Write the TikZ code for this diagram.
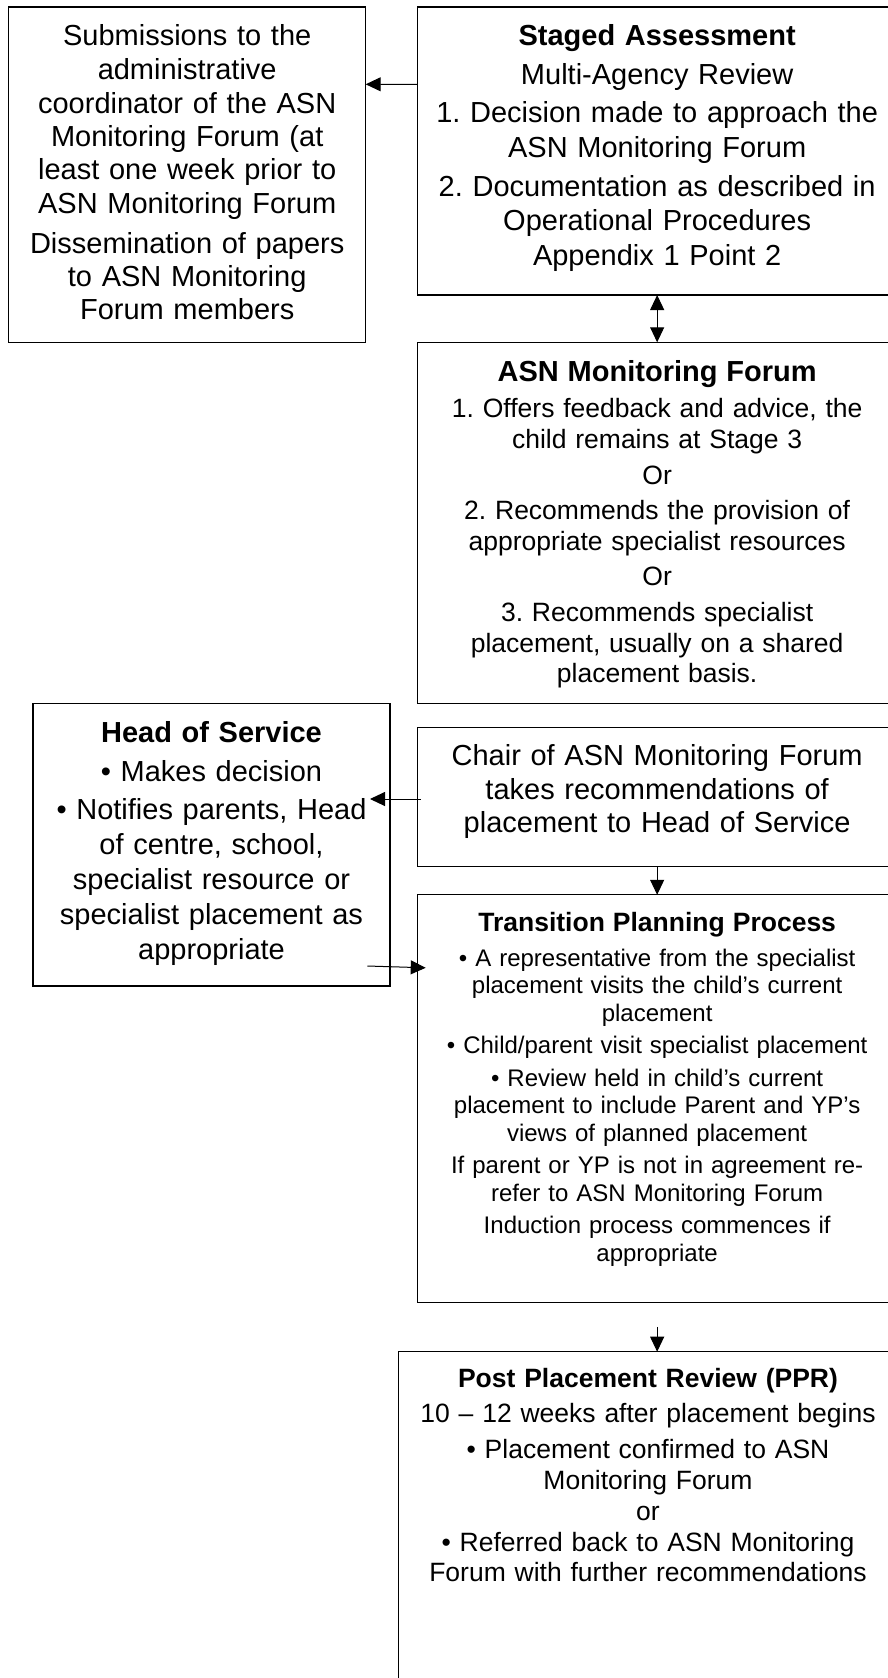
\documentclass[tikz,border=0pt]{standalone}
\usepackage{fontspec}
\setmainfont{Liberation Sans}
\usetikzlibrary{arrows.meta, positioning, calc}
\frenchspacing

\begin{document}
\begin{tikzpicture}[
    x=1pt, y=-1pt,
    stagebox/.style={
        rectangle,
        draw=black,
        line width=1.3pt,
        outer sep=0pt,
        inner sep=0pt
    },
    boxtext/.style={
        anchor=base,
        align=center,
        inner sep=0pt
    },
    bigtext/.style={font=\fontsize{29}{34}\selectfont},
    midtext/.style={font=\fontsize{26.5}{30.6}\selectfont},
    smalltext/.style={font=\fontsize{24}{27.5}\selectfont},
    arrow/.style={
        line width=1pt,
        -{Triangle[length=15pt, width=14pt]}
    },
    twoway/.style={
        line width=1pt,
        {Triangle[length=15pt, width=14pt]}-{Triangle[length=15pt, width=14pt]}
    }
]

\useasboundingbox (0,0) rectangle (888,1678);
\clip (0,0) rectangle (888,1678);

% ==================== RIGHT COLUMN ====================

\node (staged) [stagebox, minimum width=479.7pt, minimum height=288pt] at (657.15,151) {};
\node (forum) [stagebox, minimum width=479.7pt, minimum height=361pt, below=47.3pt of staged] {};
\node (chair) [stagebox, minimum width=479.7pt, minimum height=138.8pt, below=24.4pt of forum] {};
\node (tpp) [stagebox, minimum width=479.7pt, minimum height=408pt, below=28.3pt of chair] {};
\node (ppr) [stagebox, minimum width=499pt, minimum height=368.3pt] at (648,1535.85) {};

% ==================== LEFT COLUMN ====================

\node (sub) [stagebox, minimum width=357pt, minimum height=335.7pt] at (187.2,174.85) {};
\node (hos) [stagebox, minimum width=357pt, minimum height=282.7pt] at (211.5,844.65) {};

% ==================== BOX TEXTS ====================

\node (subtext) [boxtext, font=\fontsize{29}{33.5}\selectfont, text width=340pt] at ($(sub.north)+(0,39)$)
    {Submissions to the\\ administrative\\ coordinator of the ASN\\ Monitoring Forum (at\\
     least one week prior to\\ ASN Monitoring Forum\\[6pt] Dissemination of papers\\
     to ASN Monitoring\\ Forum members};

\node (stagedtext) [boxtext, font=\fontsize{29}{34.5}\selectfont, text width=470pt] at ($(staged.north)+(0,39)$)
    {\textbf{Staged Assessment}\\[4.5pt] Multi-Agency Review\\[3.5pt]
     1. Decision made to approach the\\ ASN Monitoring Forum\\[4pt]
     2. Documentation as described in\\ Operational Procedures\\ Appendix 1 Point 2};

\node (forumtext) [boxtext, midtext, text width=470pt] at ($(forum.north)+(0,39)$)
    {{\fontsize{29}{30.6}\selectfont\bfseries ASN Monitoring Forum}\\[6pt]
     1. Offers feedback and advice, the\\ child remains at Stage 3\\[5pt]
     Or\\[5pt]
     2. Recommends the provision of\\ appropriate specialist resources\\[5pt]
     Or\\[5pt]
     3. Recommends specialist\\ placement, usually on a shared\\ placement basis.};

\node (hostext) [boxtext, font=\fontsize{29}{35}\selectfont, text width=345pt] at ($(hos.north)+(0,38.7)$)
    {\textbf{Head of Service}\\[4pt] • Makes decision\\[3pt]
     • Notifies parents, Head\\ of centre, school,\\ specialist resource or\\
     specialist placement as\\ appropriate};

\node (chairtext) [boxtext, font=\fontsize{29}{33.5}\selectfont, text width=470pt] at ($(chair.north)+(0,38)$)
    {Chair of ASN Monitoring Forum\\ takes recommendations of\\ placement to Head of Service};

\node (tpptext) [boxtext, smalltext, text width=470pt] at ($(tpp.north)+(0,36.6)$)
    {{\fontsize{26.5}{27.5}\selectfont\bfseries Transition Planning Process}\\[7.5pt]
     • A representative from the specialist\\ placement visits the child’s current\\ placement\\[5pt]
     • Child/parent visit specialist placement\\[5pt]
     • Review held in child’s current\\ placement to include Parent and YP’s\\ views of planned placement\\[5pt]
     If parent or YP is not in agreement re-\\ refer to ASN Monitoring Forum\\[5pt]
     Induction process commences if\\ appropriate};

\node (pprtext) [boxtext, font=\fontsize{26.5}{30.8}\selectfont, text width=490pt] at ($(ppr.north)+(0,35.3)$)
    {\textbf{Post Placement Review (PPR)}\\[5pt]
     10 – 12 weeks after placement begins\\[5pt]
     • Placement confirmed to ASN\\ Monitoring Forum\\ or\\
     • Referred back to ASN Monitoring\\ Forum with further recommendations};

% ==================== CONNECTIONS ====================

\draw [arrow] ([yshift=-77.3pt]staged.north west) -- ([yshift=-77.3pt]sub.north east);
\draw [twoway] (staged.south) -- (forum.north);
\draw [arrow] ([shift={(3.4,71.3)}]chair.north west) -- ([shift={(-20,95.7)}]hos.north east);
\draw [arrow] (chair.south) -- (tpp.north);
\draw [arrow] ([shift={(-22.7,262.7)}]hos.north east) -- ([shift={(8.4,73)}]tpp.north west);
\draw [arrow] ([yshift=-24pt]tpp.south) -- (tpp.south |- ppr.north);

\end{tikzpicture}
\end{document}
